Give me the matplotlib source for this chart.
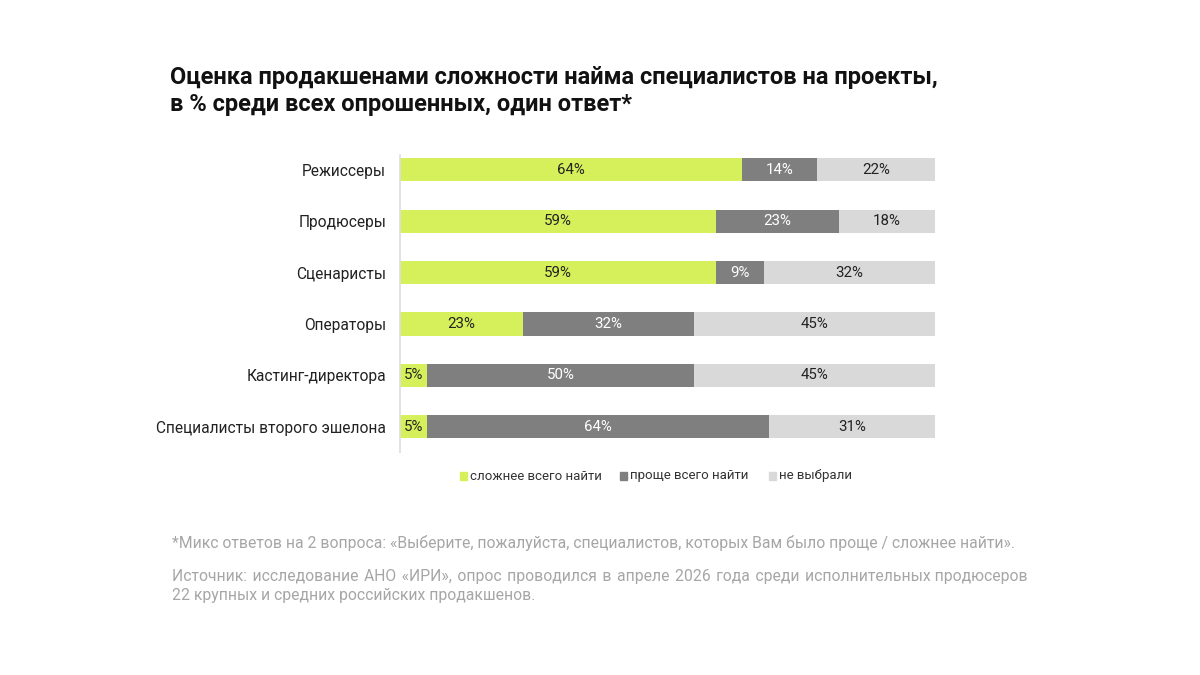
import matplotlib.pyplot as plt
from matplotlib.patches import Rectangle
import numpy as np

plt.rcParams['font.family'] = ['Roboto', 'DejaVu Sans']

# Data
categories = ['Режиссеры', 'Продюсеры', 'Сценаристы', 'Операторы',
              'Кастинг-директора', 'Специалисты второго эшелона']
hard = [64, 59, 59, 23, 5, 5]
easy = [14, 23, 9, 32, 50, 64]
none = [22, 18, 32, 45, 45, 31]
series_names = ['сложнее всего найти', 'проще всего найти', 'не выбрали']

colors = ['#d5f05a', '#7f7f7f', '#d9d9d9']
text_colors = ['#222222', 'white', '#222222']

fig = plt.figure(figsize=(12, 6.75), dpi=100)
ax = fig.add_axes([400 / 1200, 1 - 452 / 675, 535 / 1200, 297 / 675])

y = np.arange(len(categories))
left = np.zeros(len(categories))
for vals, col, tcol in zip([hard, easy, none], colors, text_colors):
    vals = np.array(vals)
    ax.barh(y, vals, left=left, height=0.45, color=col, edgecolor='none')
    for yi, l, v in zip(y, left, vals):
        ax.text(l + v / 2, yi, f'{v}%', ha='center', va='center',
                fontsize=10.8, color=tcol)
    left = left + vals

ax.set_xlim(0, 100)
ax.set_ylim(5.49, -0.29)
ax.set_yticks(y)
ax.set_yticklabels(categories, fontsize=11.2, color='#222222')
ax.tick_params(axis='y', length=0, pad=10)
ax.set_xticks([])
for s in ['top', 'right', 'bottom']:
    ax.spines[s].set_visible(False)
ax.spines['left'].set_color('#dddddd')
ax.spines['left'].set_linewidth(1.2)

# Title
fig.text(170 / 1200, 1 - 91 / 675,
         'Оценка продакшенами сложности найма специалистов на проекты,\n'
         'в % среди всех опрошенных, один ответ*',
         fontsize=17, fontweight='bold', color='#111111',
         va='center', ha='left', linespacing=1.2)

# Legend (manual)
legend_x = [460, 620, 769]
ly = 1 - 476 / 675
for lx, col, name in zip(legend_x, colors, series_names):
    fig.patches.append(Rectangle((lx / 1200, ly - 4 / 675), 7 / 1200, 8 / 675,
                                 transform=fig.transFigure, color=col))
    fig.text((lx + 10) / 1200, ly, name, fontsize=9.5, color='#333333',
             va='center', ha='left')

# Footnotes
foot_col = '#a6a6a6'
fig.text(172 / 1200, 1 - 543 / 675,
         '*Микс ответов на 2 вопроса: «Выберите, пожалуйста, специалистов, '
         'которых Вам было проще / сложнее найти».',
         fontsize=11.3, color=foot_col, va='center', ha='left')

# source line, stretched to full width with hair spaces (justified look)
source_line = ('Источник: исследование АНО «ИРИ», опрос проводился в апреле '
               '2026 года среди исполнительных продюсеров')
renderer = fig.canvas.get_renderer()


def text_width(s):
    t = fig.text(0, 0, s, fontsize=11.3)
    w = t.get_window_extent(renderer).width
    t.remove()
    return w


target = 1028 - 172
base_w = text_width(source_line)
hair_w = text_width('a' + '\u200a' * 10 + 'a') - text_width('aa')
hair_w /= 10
words = source_line.split(' ')
n_gaps = len(words) - 1
n_hair = max(0, int(round((target - base_w) / hair_w)))
per_gap, extra = divmod(n_hair, n_gaps)
justified = words[0]
for i, w in enumerate(words[1:]):
    pad = '\u200a' * (per_gap + (1 if i < extra else 0))
    justified += ' ' + pad + w
fig.text(172 / 1200, 1 - 586 / 675,
         justified + '\n22 крупных и средних российских продакшенов.',
         fontsize=11.3, color=foot_col, va='center', ha='left',
         linespacing=1.4)

fig.savefig('out.png', dpi=100, facecolor='white')
